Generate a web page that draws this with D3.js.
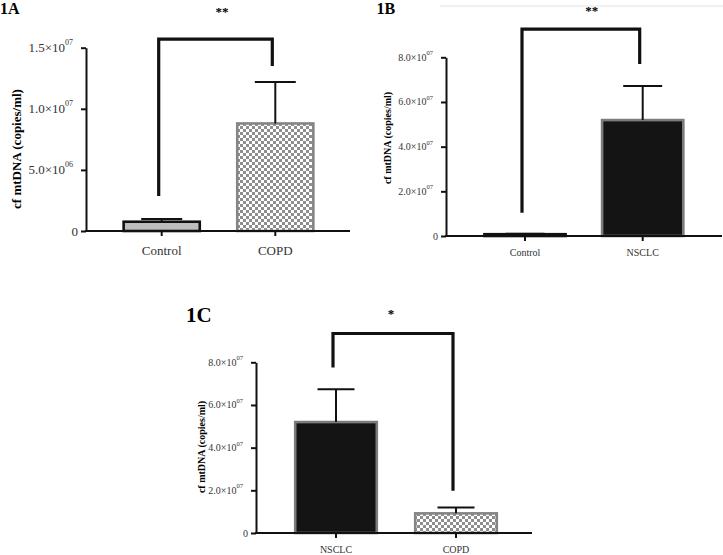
<!DOCTYPE html>
<html>
<head>
<meta charset="utf-8">
<script src="https://cdn.jsdelivr.net/npm/d3@7"></script>
<style>
  body { margin: 0; background: #fff; }
  svg { display: block; font-family: "Liberation Serif", "Times New Roman", serif; }
</style>
</head>
<body>
<svg id="vis" width="723" height="555"></svg>
<script>
// values (copies/ml)
const catsA = ["Control", "COPD"];
const meanA = [0.76e6, 8.8e6];
const semA = [0.22e6, 3.4e6];
const ticksA = [0, 5e6, 1e7, 1.5e7];
const tickLabelsA = [["0", ""], ["5.0×10", "06"], ["1.0×10", "07"], ["1.5×10", "07"]];
const bracketA = [2.86e6, 15.7e6, 13.5e6]; // left leg end, top, right leg end
const starsA = "**";

const catsB = ["Control", "NSCLC"];
const meanB = [0.8e6, 5.19e7];
const semB = [0.2e6, 1.53e7];
const ticksB = [0, 2e7, 4e7, 6e7, 8e7];
const tickLabelsB = [["0", ""], ["2.0×10", "07"], ["4.0×10", "07"], ["6.0×10", "07"], ["8.0×10", "07"]];
const bracketB = [1.04e7, 9.26e7, 7.7e7];
const starsB = "**";

const catsC = ["NSCLC", "COPD"];
const meanC = [5.2e7, 0.92e7];
const semC = [1.54e7, 0.28e7];
const ticksC = ticksB;
const tickLabelsC = tickLabelsB;
const bracketC = [7.76e7, 9.35e7, 1.98e7];
const starsC = "*";

const yTitle = "cf mtDNA (copies/ml)";

const svg = d3.select("#vis");

// checker pattern used for the COPD bars
const defs = svg.append("defs");
const pat = defs.append("pattern")
  .attr("id", "checker")
  .attr("patternUnits", "userSpaceOnUse")
  .attr("width", 6).attr("height", 6);
pat.append("rect").attr("width", 6).attr("height", 6).attr("fill", "#fff");
pat.append("rect").attr("width", 3).attr("height", 3).attr("fill", "#8e8e8e");
pat.append("rect").attr("x", 3).attr("y", 3).attr("width", 3).attr("height", 3).attr("fill", "#8e8e8e");

const barStyle = {
  Control: { fill: "#bdbdbd", stroke: "#111" },
  ControlDark: { fill: "#111", stroke: "#111" },
  COPD: { fill: "url(#checker)", stroke: "#858585" },
  NSCLC: { fill: "#141414", stroke: "#7c7c7c" }
};

// panel 1B faint rule at top
svg.append("line")
  .attr("x1", 440).attr("x2", 723).attr("y1", 6).attr("y2", 6)
  .attr("stroke", "#e2e2e2").attr("stroke-width", 1);

const panels = [
  {
    name: "1A", cats: catsA, mean: meanA, sem: semA, ticks: ticksA, tickLabels: tickLabelsA,
    bracket: bracketA, stars: starsA, styles: ["Control", "COPD"],
    domain: [0, 1.5e7], yRange: [231, 47.7], xRange: [104.9, 332.1], pad: 0.33,
    axisX: 86, axisEnd: 350, font: 13, sup: 8, title: { x: 0, y: 14, size: 16 },
    starsPos: { x: 222, y: 16 }, yTitlePos: { x: 16, y: 149 }, labelY: 255, capW: 41
  },
  {
    name: "1B", cats: catsB, mean: meanB, sem: semB, ticks: ticksB, tickLabels: tickLabelsB,
    bracket: bracketB, stars: starsB, styles: ["ControlDark", "NSCLC"],
    domain: [0, 8e7], yRange: [236, 57.3], xRange: [466.15, 701.55], pad: 0.31,
    axisX: 446, axisEnd: 722, font: 10, sup: 6.5, title: { x: 376.5, y: 14, size: 16 },
    starsPos: { x: 591.7, y: 15 }, yTitlePos: { x: 387, y: 138 }, labelY: 256, capW: 39
  },
  {
    name: "1C", cats: catsC, mean: meanC, sem: semC, ticks: ticksC, tickLabels: tickLabelsC,
    bracket: bracketC, stars: starsC, styles: ["NSCLC", "COPD"],
    domain: [0, 8e7], yRange: [533, 362.3], xRange: [276, 516], pad: 0.32,
    axisX: 256, axisEnd: 532, font: 10, sup: 6.5, title: { x: 186, y: 322, size: 21 },
    starsPos: { x: 391, y: 318 }, yTitlePos: { x: 201, y: 447 }, labelY: 553, capW: 37
  }
];

panels.forEach(drawPanel);

function drawPanel(p) {
  const g = svg.append("g");

  const x = d3.scaleBand()
    .domain(p.cats)
    .range(p.xRange)
    .paddingInner(p.pad)
    .paddingOuter(p.pad / 2);

  const y = d3.scaleLinear()
    .domain(p.domain)
    .range(p.yRange);

  const data = p.cats.map((c, i) => ({ cat: c, mean: p.mean[i], sem: p.sem[i], style: barStyle[p.styles[i]] }));

  // panel letter
  g.append("text")
    .attr("x", p.title.x).attr("y", p.title.y)
    .attr("font-size", p.title.size).attr("font-weight", "bold")
    .text(p.name);

  // bars
  g.selectAll(".bar")
    .data(data)
    .join("rect")
    .attr("class", "bar")
    .attr("x", d => x(d.cat))
    .attr("width", x.bandwidth())
    .attr("y", d => y(d.mean))
    .attr("height", d => y(0) - y(d.mean))
    .attr("fill", d => d.style.fill)
    .attr("stroke", d => d.style.stroke)
    .attr("stroke-width", 2.6);

  // error bars (upper only)
  const err = g.selectAll(".err")
    .data(data)
    .join("g")
    .attr("class", "err")
    .attr("stroke", "#111")
    .attr("stroke-width", 2);
  err.append("line")
    .attr("x1", d => x(d.cat) + x.bandwidth() / 2)
    .attr("x2", d => x(d.cat) + x.bandwidth() / 2)
    .attr("y1", d => y(d.mean))
    .attr("y2", d => y(d.mean + d.sem));
  err.append("line")
    .attr("x1", d => x(d.cat) + x.bandwidth() / 2 - p.capW / 2)
    .attr("x2", d => x(d.cat) + x.bandwidth() / 2 + p.capW / 2)
    .attr("y1", d => y(d.mean + d.sem))
    .attr("y2", d => y(d.mean + d.sem));

  // y axis
  const yAxis = g.append("g")
    .attr("transform", `translate(${p.axisX},0)`)
    .call(d3.axisLeft(y).tickValues(p.ticks).tickSize(5).tickSizeOuter(0).tickFormat(""));
  yAxis.select(".domain").attr("stroke-width", 2).attr("stroke", "#111");
  yAxis.selectAll(".tick line").attr("stroke-width", 2).attr("stroke", "#111");

  const lbl = g.selectAll(".ylbl")
    .data(p.ticks)
    .join("text")
    .attr("class", "ylbl")
    .attr("text-anchor", "end")
    .attr("x", (d, i) => p.axisX - (p.tickLabels[i][1] ? 13 : 8))
    .attr("y", d => y(d))
    .attr("dy", "0.35em")
    .attr("font-size", p.font)
    .attr("fill", "#333");
  lbl.append("tspan").text((d, i) => p.tickLabels[i][0]);
  lbl.append("tspan")
    .attr("font-size", p.sup)
    .attr("dy", -p.font * 0.55)
    .text((d, i) => p.tickLabels[i][1]);

  // x axis
  g.append("line")
    .attr("x1", p.axisX - 1).attr("x2", p.axisEnd)
    .attr("y1", y(0)).attr("y2", y(0))
    .attr("stroke", "#111").attr("stroke-width", 2);
  const xAxis = g.append("g")
    .attr("transform", `translate(0,${y(0)})`)
    .call(d3.axisBottom(x).tickSize(5).tickSizeOuter(0).tickFormat(""));
  xAxis.select(".domain").remove();
  xAxis.selectAll(".tick line").attr("stroke-width", 2).attr("stroke", "#111");

  g.selectAll(".xlbl")
    .data(p.cats)
    .join("text")
    .attr("class", "xlbl")
    .attr("text-anchor", "middle")
    .attr("x", d => x(d) + x.bandwidth() / 2)
    .attr("y", p.labelY)
    .attr("font-size", p.font)
    .attr("fill", "#333")
    .text(d => d);

  // y title
  g.append("text")
    .attr("transform", `translate(${p.yTitlePos.x},${p.yTitlePos.y}) rotate(-90)`)
    .attr("text-anchor", "middle")
    .attr("dy", "0.35em")
    .attr("font-size", p.font)
    .attr("font-weight", "bold")
    .text(yTitle);

  // significance bracket
  const cx0 = x(p.cats[0]) + x.bandwidth() / 2 - 3;
  const cx1 = x(p.cats[1]) + x.bandwidth() / 2 - 3;
  g.append("path")
    .attr("d", d3.line()([[cx0, y(p.bracket[0])], [cx0, y(p.bracket[1])], [cx1, y(p.bracket[1])], [cx1, y(p.bracket[2])]]))
    .attr("fill", "none")
    .attr("stroke", "#111")
    .attr("stroke-width", 3.2)
    .attr("stroke-linejoin", "miter");

  g.append("text")
    .attr("x", p.starsPos.x).attr("y", p.starsPos.y)
    .attr("text-anchor", "middle")
    .attr("font-size", 13)
    .attr("font-weight", "bold")
    .text(p.stars);
}
</script>
</body>
</html>
